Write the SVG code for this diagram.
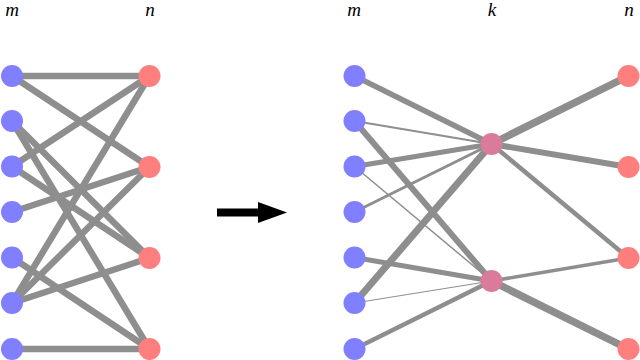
<svg xmlns="http://www.w3.org/2000/svg" width="640" height="360" viewBox="0 0 640 360">
<style>
.e{stroke:#8e8e8e;fill:none;stroke-linecap:butt}
.m{fill:#7f7fff}
.n{fill:#ff7f7f}
.k{fill:#db7b9b}
.t{font-family:"Liberation Serif","DejaVu Serif",serif;font-style:italic;font-size:19px;fill:#000;text-anchor:middle}
</style>
<rect width="640" height="360" fill="#fff"/>
<g id="labels">
<text class="t" x="12" y="16">m</text>
<text class="t" x="150" y="16">n</text>
<text class="t" x="354" y="16">m</text>
<text class="t" x="492" y="16">k</text>
<text class="t" x="629" y="16">n</text>
</g>
<g id="connectors">
<g stroke-width="6.5" class="e">
<line x1="12" y1="76" x2="149.5" y2="76"/>
<line x1="12" y1="76" x2="149.5" y2="167"/>
<line x1="12" y1="121" x2="149.5" y2="258"/>
<line x1="12" y1="121" x2="149.5" y2="349"/>
<line x1="12" y1="166.5" x2="149.5" y2="76"/>
<line x1="12" y1="166.5" x2="149.5" y2="258"/>
<line x1="12" y1="212" x2="149.5" y2="167"/>
<line x1="12" y1="257.5" x2="149.5" y2="349"/>
<line x1="12" y1="303" x2="149.5" y2="76"/>
<line x1="12" y1="303" x2="149.5" y2="167"/>
<line x1="12" y1="303" x2="149.5" y2="258"/>
<line x1="12" y1="349" x2="149.5" y2="349"/>
</g>
<g class="e">
<line x1="354.5" y1="76" x2="491.5" y2="144" stroke-width="5.5"/>
<line x1="354.5" y1="121" x2="491.5" y2="144" stroke-width="2"/>
<line x1="354.5" y1="121" x2="491.5" y2="281" stroke-width="6"/>
<line x1="354.5" y1="166.5" x2="491.5" y2="144" stroke-width="5"/>
<line x1="354.5" y1="166.5" x2="491.5" y2="281" stroke-width="1.5"/>
<line x1="354.5" y1="212" x2="491.5" y2="144" stroke-width="3"/>
<line x1="354.5" y1="257.5" x2="491.5" y2="281" stroke-width="5"/>
<line x1="354.5" y1="303" x2="491.5" y2="144" stroke-width="7"/>
<line x1="354.5" y1="303" x2="491.5" y2="281" stroke-width="1"/>
<line x1="354.5" y1="349" x2="491.5" y2="281" stroke-width="4.5"/>
<line x1="491.5" y1="144" x2="628.5" y2="76" stroke-width="7.5"/>
<line x1="491.5" y1="144" x2="628.5" y2="167" stroke-width="6"/>
<line x1="491.5" y1="144" x2="628.5" y2="258" stroke-width="4.5"/>
<line x1="491.5" y1="281" x2="628.5" y2="258" stroke-width="3.5"/>
<line x1="491.5" y1="281" x2="628.5" y2="349" stroke-width="7.5"/>
</g>
</g>
<g id="arrow">
<rect x="217" y="208.5" width="43" height="8" fill="#000"/>
<polygon points="258,202 287,212.5 258,223" fill="#000"/>
</g>
<g id="left-m">
<circle id="lm1" class="m" cx="12" cy="76" r="11"/>
<circle id="lm2" class="m" cx="12" cy="121" r="11"/>
<circle id="lm3" class="m" cx="12" cy="166.5" r="11"/>
<circle id="lm4" class="m" cx="12" cy="212" r="11"/>
<circle id="lm5" class="m" cx="12" cy="257.5" r="11"/>
<circle id="lm6" class="m" cx="12" cy="303" r="11"/>
<circle id="lm7" class="m" cx="12" cy="349" r="11"/>
</g>
<g id="left-n">
<circle id="ln1" class="n" cx="149.5" cy="76" r="11"/>
<circle id="ln2" class="n" cx="149.5" cy="167" r="11"/>
<circle id="ln3" class="n" cx="149.5" cy="258" r="11"/>
<circle id="ln4" class="n" cx="149.5" cy="349" r="11"/>
</g>
<g id="right-m">
<circle id="rm1" class="m" cx="354.5" cy="76" r="11"/>
<circle id="rm2" class="m" cx="354.5" cy="121" r="11"/>
<circle id="rm3" class="m" cx="354.5" cy="166.5" r="11"/>
<circle id="rm4" class="m" cx="354.5" cy="212" r="11"/>
<circle id="rm5" class="m" cx="354.5" cy="257.5" r="11"/>
<circle id="rm6" class="m" cx="354.5" cy="303" r="11"/>
<circle id="rm7" class="m" cx="354.5" cy="349" r="11"/>
</g>
<g id="right-k">
<circle id="k1" class="k" cx="491.5" cy="144" r="11"/>
<circle id="k2" class="k" cx="491.5" cy="281" r="11"/>
</g>
<g id="right-n">
<circle id="rn1" class="n" cx="628.5" cy="76" r="11"/>
<circle id="rn2" class="n" cx="628.5" cy="167" r="11"/>
<circle id="rn3" class="n" cx="628.5" cy="258" r="11"/>
<circle id="rn4" class="n" cx="628.5" cy="349" r="11"/>
</g>
</svg>
